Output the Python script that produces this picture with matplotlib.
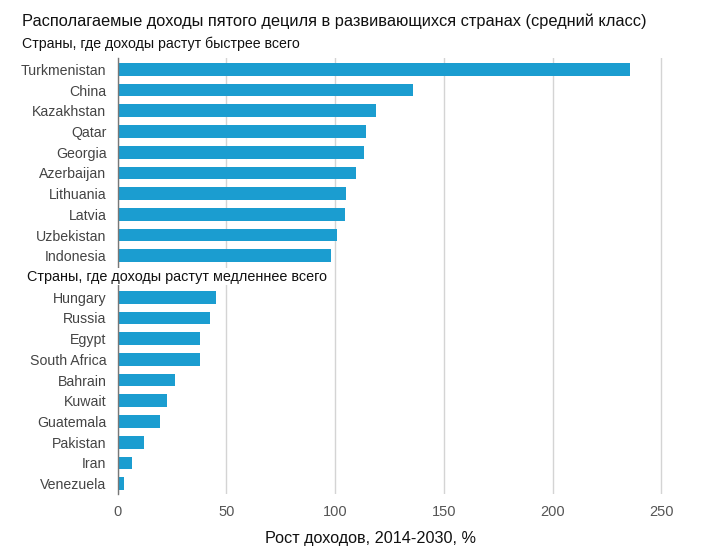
import numpy as np
import matplotlib
matplotlib.use("Agg")
from matplotlib import pyplot as plt
from matplotlib import transforms

plt.rcParams['font.family'] = ['Liberation Sans', 'DejaVu Sans']

# fastest growing countries
countries_fast = ["Turkmenistan", "China", "Kazakhstan", "Qatar", "Georgia",
                  "Azerbaijan", "Lithuania", "Latvia", "Uzbekistan", "Indonesia"]
growth_fast = [235.8, 135.8, 118.7, 114.2, 113.2, 109.5, 105.1, 104.6, 100.8, 98.0]

# slowest growing countries
countries_slow = ["Hungary", "Russia", "Egypt", "South Africa", "Bahrain",
                  "Kuwait", "Guatemala", "Pakistan", "Iran", "Venezuela"]
growth_slow = [45.4, 42.6, 37.9, 37.9, 26.5, 22.7, 19.5, 12.0, 6.7, 3.0]

title = "Располагаемые доходы пятого дециля в развивающихся странах (средний класс)"
label_fast = "Страны, где доходы растут быстрее всего"
label_slow = "Страны, где доходы растут медленнее всего"
xlabel = "Рост доходов, 2014-2030, %"
xticks = [0, 50, 100, 150, 200, 250]

bar_color = "#1b9dd0"

fig = plt.figure(figsize=(7.04, 5.53), dpi=100)
ax = fig.add_axes([117.5 / 704, 1 - 494 / 553, (694 - 117.5) / 704, (494 - 58) / 553])

# one empty slot between the two groups for the section label
labels = countries_fast + [""] + countries_slow
values = growth_fast + [0] + growth_slow
pos = np.arange(len(labels))
mask = np.array([l != "" for l in labels])

ax.barh(pos[mask], np.array(values)[mask], height=0.61, color=bar_color, zorder=3)
ax.set_yticks(pos[mask])
ax.set_yticklabels([l for l in labels if l], color="#444444", fontsize=10.2)
ax.set_ylim(20.5, -0.55)
ax.set_xlim(0, 265)
ax.set_xticks(xticks)
ax.set_xticklabels([str(t) for t in xticks], color="#555555", fontsize=10.5)

ax.grid(axis="x", color="#d4d4d4", linewidth=1, zorder=0)
for s in ["top", "right", "bottom"]:
    ax.spines[s].set_visible(False)
ax.spines["left"].set_color("#777777")
ax.spines["left"].set_linewidth(1)
ax.spines["left"].set_zorder(4)
ax.tick_params(axis="both", length=0)
ax.tick_params(axis="y", pad=8)
ax.tick_params(axis="x", pad=8)

fig.text(22.5 / 704, 1 - 21 / 553, title, fontsize=11.75, va="center", ha="left", color="#111111")
fig.text(22.5 / 704, 1 - 44 / 553, label_fast, fontsize=10.2, va="center", ha="left", color="#111111")
trans = transforms.blended_transform_factory(fig.transFigure, ax.transData)
ax.text(27 / 704, 10, label_slow, transform=trans, fontsize=10.4, va="center", ha="left",
        color="#111111", zorder=5,
        bbox=dict(facecolor="white", edgecolor="none", pad=1))
fig.text(370.5 / 704, 1 - 539 / 553, xlabel, fontsize=11.7, va="center", ha="center", color="#111111")

fig.savefig("out.png", dpi=100)
